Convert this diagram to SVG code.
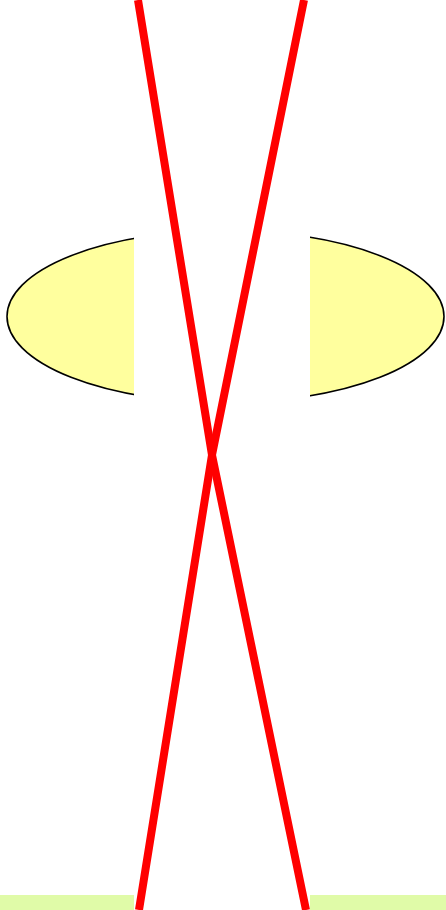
<svg xmlns="http://www.w3.org/2000/svg" width="446" height="910" viewBox="0 0 446 910">
<style>
.edge{fill:none;stroke:#ff0000;stroke-width:8;stroke-linejoin:miter}
.ell{fill:#ffff9e;stroke:#000;stroke-width:1.6}
.strip{fill:#e0fba8}
.mask{fill:#ffffff}
</style>
<rect width="446" height="910" fill="#ffffff"/>
<g id="node-bottom"><rect class="strip" x="0" y="895" width="446" height="15"/></g>
<g id="node-ellipse"><ellipse class="ell" cx="225.5" cy="316.5" rx="218.5" ry="86"/></g>
<g id="node-gap"><rect class="mask" x="134" y="0" width="176" height="910"/></g>
<g id="connectors">
<path class="edge" d="M138,0 L212,455 L306,910"/>
<path class="edge" d="M304,0 L212,455 L139,910"/>
</g>
</svg>
